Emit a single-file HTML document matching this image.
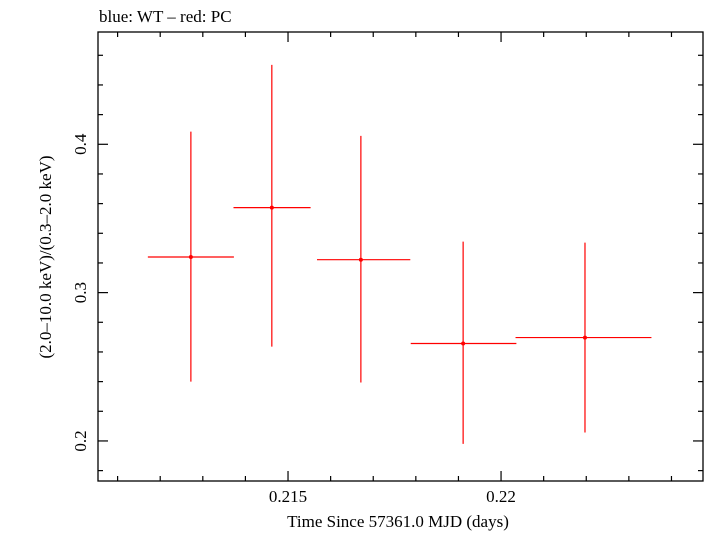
<!DOCTYPE html>
<html><head><meta charset="utf-8"><style>
body{margin:0;background:#fff;width:705px;height:532px;overflow:hidden}
text{font-family:"Liberation Serif",serif;fill:#000}
</style></head><body>
<svg id="chart" width="705" height="532" xmlns="http://www.w3.org/2000/svg">
<text x="99" y="22" font-size="17">blue: WT – red: PC</text>
<rect x="98" y="32" width="605" height="449" fill="none" stroke="#000" stroke-width="1.3"/>
<g id="axes"></g>
<g id="marks"></g>
<text x="398" y="527" font-size="17" text-anchor="middle">Time Since 57361.0 MJD (days)</text>
<text transform="translate(51,257) rotate(-90)" font-size="17" text-anchor="middle">(2.0–10.0 keV)/(0.3–2.0 keV)</text>
</svg>
<script>
const xCenters=[0.21272,0.21462,0.21671,0.21911,0.22197];
const xLow=[0.21171,0.21372,0.21568,0.21788,0.22034];
const xHigh=[0.21373,0.21553,0.21787,0.22036,0.22353];
const yValues=[0.324,0.3573,0.3222,0.2657,0.2697];
const yLow=[0.240,0.2636,0.2394,0.198,0.2057];
const yHigh=[0.4085,0.4535,0.4057,0.3344,0.3337];
const xTickLabels=["0.215","0.22"];
const yTickLabels=["0.2","0.3","0.4"];
const X0=0.21054,X1=0.22474,Y0=0.173,Y1=0.4757;
const L=98,R=703,T=32,B=481;
const sx=v=>L+(v-X0)/(X1-X0)*(R-L);
const sy=v=>B-(v-Y0)/(Y1-Y0)*(B-T);
const NS="http://www.w3.org/2000/svg";
const axes=document.getElementById('axes'),marks=document.getElementById('marks');
function ln(p,x1,y1,x2,y2,c,w){const e=document.createElementNS(NS,'line');e.setAttribute('x1',x1);e.setAttribute('y1',y1);e.setAttribute('x2',x2);e.setAttribute('y2',y2);e.setAttribute('stroke',c);e.setAttribute('stroke-width',w);p.appendChild(e);return e;}
for(let k=Math.ceil(X0*1000);k<=X1*1000;k++){const v=k/1000,x=sx(v),maj=(k%5===0),len=maj?10:5;
let a=ln(axes,x,B,x,B-len,'#000',1.2);


let b=ln(axes,x,T,x,T+len,'#000',1.2);

}
xTickLabels.forEach(s=>{const t=document.createElementNS(NS,'text');t.setAttribute('x',sx(parseFloat(s)));t.setAttribute('y',502);t.setAttribute('font-size','17');t.setAttribute('text-anchor','middle');t.textContent=s;


axes.appendChild(t);});
for(let k=Math.ceil(Y0*50);k<=Y1*50;k++){const v=k/50,y=sy(v),maj=(k%5===0),len=maj?10:5;
let a=ln(axes,L,y,L+len,y,'#000',1.2);


let b=ln(axes,R,y,R-len,y,'#000',1.2);

}
yTickLabels.forEach(s=>{const t=document.createElementNS(NS,'text');const y=sy(parseFloat(s));t.setAttribute('transform','translate(86,'+y+') rotate(-90)');t.setAttribute('font-size','17');t.setAttribute('text-anchor','middle');t.textContent=s;


axes.appendChild(t);});
xCenters.forEach((xc,i)=>{const c='#f00';
let h=ln(marks,sx(xLow[i]),sy(yValues[i]),sx(xHigh[i]),sy(yValues[i]),c,1.2);


let v=ln(marks,sx(xc),sy(yLow[i]),sx(xc),sy(yHigh[i]),c,1.2);


const d=document.createElementNS(NS,'circle');d.setAttribute('cx',sx(xc));d.setAttribute('cy',sy(yValues[i]));d.setAttribute('r',2);d.setAttribute('fill',c);


marks.appendChild(d);});
</script>
</body></html>
